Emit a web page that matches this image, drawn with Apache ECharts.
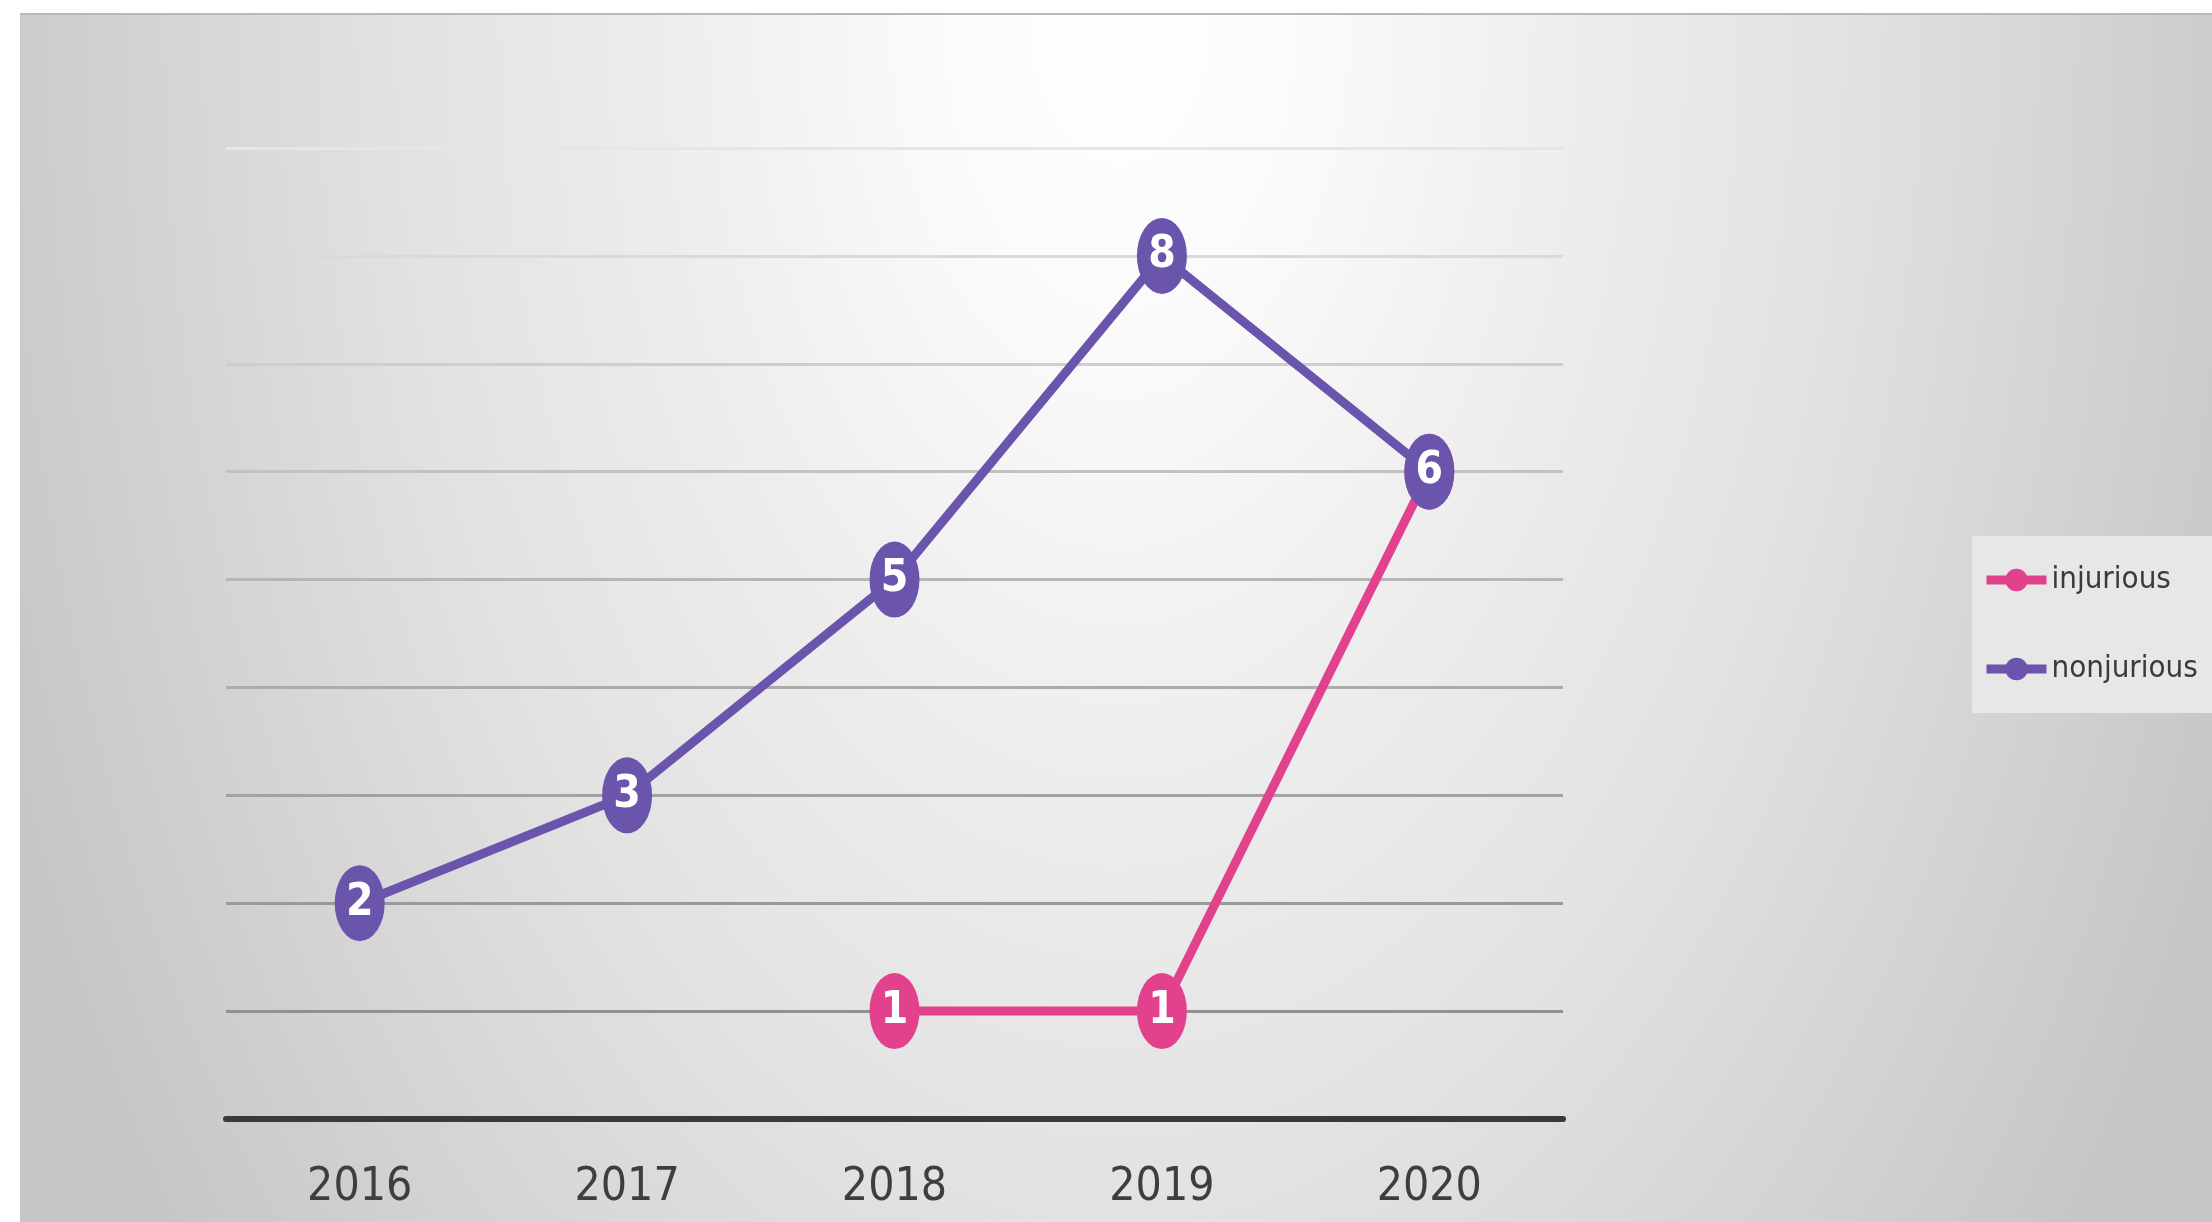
<!DOCTYPE html>
<html>
<head>
<meta charset="utf-8">
<script src="https://cdn.jsdelivr.net/npm/echarts@6/dist/echarts.min.js"></script>
<style>
  html, body { margin: 0; padding: 0; width: 2212px; height: 1222px; background: #ffffff; overflow: hidden; }
  #bg {
    position: absolute; left: 20px; top: 13px; width: 2192px; height: 1209px;
    border-top: 2px solid #b9b9b9;
    background: radial-gradient(ellipse 1200px 2000px at 1100px 0px, #ffffff 0%, #fafafa 16%, #ededed 38%, #e2e2e2 60%, #c6c6c6 100%);
  }
  #chart { position: absolute; left: 0; top: 0; width: 2212px; height: 1222px; }
</style>
</head>
<body>
<div id="bg"></div>
<div id="chart"></div>
<script>
const categories = ['2016', '2017', '2018', '2019', '2020'];
const injurious = [null, null, 1, 1, 6];
const nonjurious = [2, 3, 5, 8, 6];
const seriesNames = ['injurious', 'nonjurious'];

const FONT = '"DejaVu Sans Condensed", "Liberation Sans Narrow", "DejaVu Sans", sans-serif';
const PINK = '#e2418c';
const PURPLE = '#6b54ac';

const chart = echarts.init(document.getElementById('chart'), null, { renderer: 'canvas' });

function lineSeries(name, data, color, z) {
  return {
    name: name,
    type: 'line',
    data: data,
    z: z,
    symbol: 'circle',
    symbolSize: [50, 76],
    showSymbol: true,
    connectNulls: false,
    lineStyle: { color: color, width: 9 },
    itemStyle: { color: color },
    label: {
      show: true,
      position: 'inside',
      formatter: '{c}',
      color: '#ffffff',
      fontFamily: FONT,
      fontWeight: 'bold',
      fontSize: 44
    },
    emphasis: { disabled: true },
    animation: false
  };
}

chart.setOption({
  backgroundColor: 'transparent',
  animation: false,
  grid: { left: 226, top: 148, width: 1337, height: 971, containLabel: false },
  legend: {
    orient: 'vertical',
    left: 1972,
    top: 536,
    padding: [19, 20, 19, 10],
    itemGap: 39,
    itemWidth: 60,
    itemHeight: 28,
    backgroundColor: '#e7e7e7',
    data: seriesNames,
    lineStyle: { width: 9 },
    textStyle: { fontFamily: FONT, fontSize: 31, color: '#3a3a3a', lineHeight: 50 }
  },
  xAxis: {
    type: 'category',
    data: categories,
    boundaryGap: true,
    axisLine: { show: true, lineStyle: { color: '#3a3a3a', width: 6 } },
    axisTick: { show: false },
    axisLabel: { fontFamily: FONT, fontSize: 46, color: '#3e3e3e', margin: 46 },
    splitLine: { show: false }
  },
  yAxis: {
    type: 'value',
    min: 0,
    max: 9,
    interval: 1,
    axisLine: { show: false },
    axisTick: { show: false },
    axisLabel: { show: false },
    splitLine: {
      show: true,
      lineStyle: {
        width: 3,
        color: {
          type: 'linear', x: 0, y: 148, x2: 0, y2: 1119, global: true,
          colorStops: [
            { offset: 0, color: '#e6e6e6' },
            { offset: 0.5, color: '#b0b0b0' },
            { offset: 1, color: '#888888' }
          ]
        }
      }
    }
  },
  series: [
    lineSeries(seriesNames[0], injurious, PINK, 2),
    lineSeries(seriesNames[1], nonjurious, PURPLE, 3)
  ]
});
</script>
</body>
</html>
